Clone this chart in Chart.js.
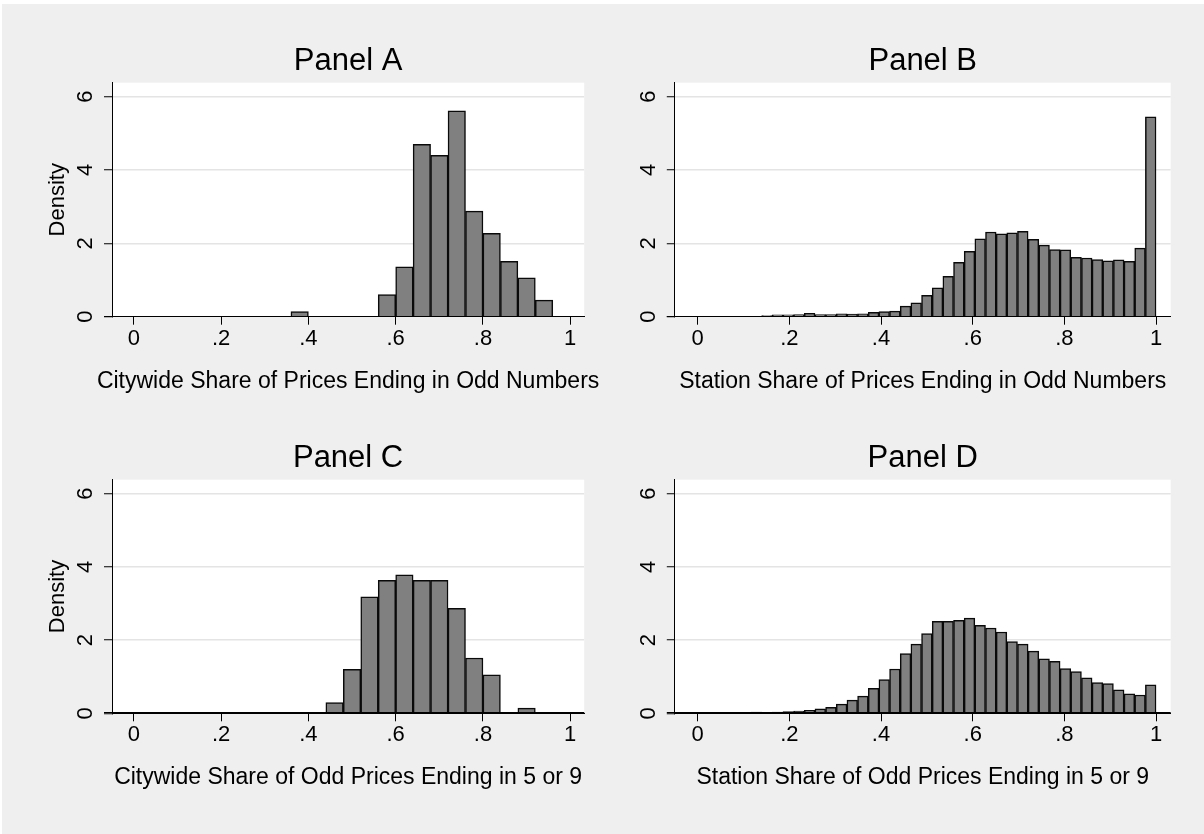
<!DOCTYPE html>
<html>
<head>
<meta charset="utf-8">
<script src="https://cdn.jsdelivr.net/npm/chart.js@4.4.1/dist/chart.umd.min.js"></script>
<style>
    html, body { margin: 0; padding: 0; background: #ffffff; }
    #page { position: relative; width: 1204px; height: 834px; overflow: hidden; }
    #bg { position: absolute; left: 2px; top: 4px; right: 0; bottom: 0; background: #efefef; }
    canvas { position: absolute; left: 0; top: 0; }
</style>
</head>
<body>
<div id="page">
    <div id="bg"></div>
    <canvas id="panelA" width="1204" height="834"></canvas>
    <canvas id="panelB" width="1204" height="834"></canvas>
    <canvas id="panelC" width="1204" height="834"></canvas>
    <canvas id="panelD" width="1204" height="834"></canvas>
</div>
<script>
// tick values and labels (shared by all panels)
const xTickValues = [0, 0.2, 0.4, 0.6, 0.8, 1];
const xTickLabels = ['0', '.2', '.4', '.6', '.8', '1'];
const yTickValues = [0, 2, 4, 6];
const yTickLabels = ['0', '2', '4', '6'];

// Panel A: citywide share odd, 15 bins of .04 starting at .36
const binStartA = 0.36;
const binWidthA = 0.04;
const densityA = [0.14, 0, 0, 0, 0, 0.60, 1.36, 4.70, 4.40, 5.61, 2.88, 2.27, 1.51, 1.06, 0.45];

// Panel B: station share odd, 43 bins from 0 to 1
const binStartB = 0;
const binWidthB = 1 / 43;
const densityB = [
    0.02, 0.01, 0.02, 0.01, 0.01, 0.02, 0.03,
    0.05, 0.05, 0.06, 0.09, 0.06, 0.06, 0.08, 0.07, 0.08, 0.12, 0.14, 0.15,
    0.29, 0.38, 0.58, 0.79, 1.10, 1.48, 1.78, 2.12, 2.31, 2.26, 2.29, 2.33,
    2.11, 1.95, 1.83, 1.82, 1.62, 1.60, 1.56, 1.52, 1.55, 1.51, 1.87, 5.45
];

// Panel C: citywide share of odd ending in 5 or 9, 12 bins of .04 starting at .44
const binStartC = 0.44;
const binWidthC = 0.04;
const densityC = [0.29, 1.20, 3.18, 3.63, 3.78, 3.63, 3.63, 2.87, 1.51, 1.05, 0, 0.14];

// Panel D: station share of odd ending in 5 or 9, 43 bins from 0 to 1
const binStartD = 0;
const binWidthD = 1 / 43;
const densityD = [
    0.01, 0.02, 0.01, 0.01, 0.02, 0.03, 0.02, 0.03, 0.05, 0.06,
    0.08, 0.12, 0.16, 0.25, 0.36, 0.47, 0.68, 0.92, 1.21, 1.63,
    1.89, 2.18, 2.51, 2.51, 2.54, 2.60, 2.40, 2.33, 2.22, 1.96,
    1.89, 1.70, 1.49, 1.42, 1.22, 1.14, 0.97, 0.84, 0.81, 0.64,
    0.53, 0.50, 0.78
];

const FONT = '"Liberation Sans", Arial, Helvetica, sans-serif';
const W = 1204, H = 834;

const panels = [
    { id: 'panelA', title: 'Panel A', xTitle: 'Citywide Share of Prices Ending in Odd Numbers', yTitle: 'Density',
      start: binStartA, width: binWidthA, values: densityA, box: { left: 112, top: 82.7, right: 584.2, bottom: 316.7 } },
    { id: 'panelB', title: 'Panel B', xTitle: 'Station Share of Prices Ending in Odd Numbers', yTitle: '',
      start: binStartB, width: binWidthB, values: densityB, box: { left: 674.8, top: 82.7, right: 1170.7, bottom: 316.7 } },
    { id: 'panelC', title: 'Panel C', xTitle: 'Citywide Share of Odd Prices Ending in 5 or 9', yTitle: 'Density',
      start: binStartC, width: binWidthC, values: densityC, box: { left: 112, top: 479.7, right: 584.2, bottom: 713.3 } },
    { id: 'panelD', title: 'Panel D', xTitle: 'Station Share of Odd Prices Ending in 5 or 9', yTitle: '',
      start: binStartD, width: binWidthD, values: densityD, box: { left: 674.8, top: 479.7, right: 1170.7, bottom: 713.3 } }
];

// white plot region behind the bars
const plotBackground = {
    id: 'plotBackground',
    beforeDraw(chart) {
        const { ctx, chartArea: a } = chart;
        ctx.save();
        ctx.fillStyle = '#ffffff';
        ctx.fillRect(a.left, a.top, a.right - a.left, a.bottom - a.top);
        ctx.restore();
    }
};

// redraw the x axis line over the bar bases
const baseLine = {
    id: 'baseLine',
    afterDatasetsDraw(chart) {
        const { ctx, chartArea: a, scales } = chart;
        const y0 = Math.round(scales.y.getPixelForValue(0)) - 0.5;
        ctx.save();
        ctx.strokeStyle = '#000';
        ctx.lineWidth = 1.2;
        ctx.beginPath();
        ctx.moveTo(a.left - 8, y0);
        ctx.lineTo(a.right, y0);
        ctx.stroke();
        ctx.restore();
    }
};

// Stata-like texts: title, tick labels, axis titles (y labels rotated)
const panelText = {
    id: 'panelText',
    afterDraw(chart, args, opts) {
        const { ctx, chartArea: a, scales } = chart;
        const cx = (a.left + a.right) / 2;
        ctx.save();
        ctx.fillStyle = '#000';
        ctx.textAlign = 'center';
        ctx.textBaseline = 'alphabetic';

        ctx.font = '31px ' + FONT;
        ctx.fillText(opts.title, cx, a.top - 13);

        ctx.font = '22px ' + FONT;
        xTickValues.forEach((v, i) => {
            ctx.fillText(xTickLabels[i], scales.x.getPixelForValue(v), a.bottom + 28);
        });

        ctx.font = '23px ' + FONT;
        ctx.fillText(opts.xTitle, cx, a.bottom + 71);

        ctx.font = '22px ' + FONT;
        yTickValues.forEach((v, i) => {
            ctx.save();
            ctx.translate(a.left - 20, scales.y.getPixelForValue(v));
            ctx.rotate(-Math.PI / 2);
            ctx.fillText(yTickLabels[i], 0, 0);
            ctx.restore();
        });

        if (opts.yTitle) {
            ctx.save();
            ctx.translate(a.left - 48, (a.top + a.bottom) / 2);
            ctx.rotate(-Math.PI / 2);
            ctx.fillText(opts.yTitle, 0, 0);
            ctx.restore();
        }
        ctx.restore();
    }
};

function makePanel(p) {
    const points = p.values.map((v, i) => ({ x: p.start + p.width * (i + 0.5), y: v }));
    return new Chart(document.getElementById(p.id), {
        type: 'bar',
        data: {
            datasets: [{
                data: points,
                backgroundColor: '#808080',
                borderColor: '#0a0a0a',
                borderWidth: 1.5,
                borderSkipped: 'start',
                barPercentage: 1,
                categoryPercentage: 1
            }]
        },
        options: {
            responsive: false,
            animation: false,
            events: [],
            layout: {
                padding: { left: p.box.left, top: p.box.top, right: W - p.box.right, bottom: H - p.box.bottom }
            },
            plugins: {
                legend: { display: false },
                title: { display: false },
                tooltip: { enabled: false },
                panelText: { title: p.title, xTitle: p.xTitle, yTitle: p.yTitle }
            },
            scales: {
                x: {
                    type: 'linear',
                    min: -0.05,
                    max: 1.032,
                    offset: false,
                    afterBuildTicks: s => { s.ticks = xTickValues.map(v => ({ value: v })); },
                    afterFit: s => { s.height = 0; },
                    ticks: { display: false },
                    grid: { offset: false, color: 'rgba(0,0,0,0)', drawTicks: true, tickLength: 8, tickColor: '#000', tickWidth: 1 },
                    border: { display: true, color: '#000', width: 1 }
                },
                y: {
                    min: 0,
                    max: 6.38,
                    afterBuildTicks: s => { s.ticks = yTickValues.map(v => ({ value: v })); },
                    afterFit: s => { s.width = 0; },
                    ticks: { display: false },
                    grid: {
                        color: c => (c.tick && c.tick.value === 0) ? 'rgba(0,0,0,0)' : '#e4e4e4',
                        lineWidth: 1.5,
                        drawTicks: true,
                        tickLength: 8,
                        tickColor: '#000',
                        tickWidth: 1
                    },
                    border: { display: true, color: '#000', width: 1 }
                }
            }
        },
        plugins: [plotBackground, baseLine, panelText]
    });
}

panels.forEach(makePanel);
</script>
</body>
</html>
